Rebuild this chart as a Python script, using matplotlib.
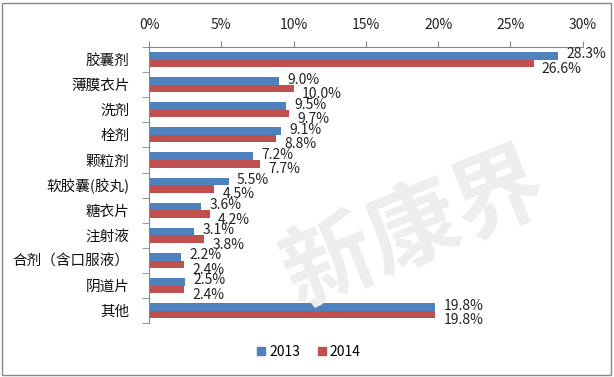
import matplotlib
matplotlib.use("Agg")
import matplotlib.pyplot as plt
import numpy as np
from matplotlib.patches import Rectangle

plt.rcParams['font.family'] = ['Noto Sans CJK SC', 'DejaVu Sans']

categories = ["胶囊剂", "薄膜衣片", "洗剂", "栓剂", "颗粒剂", "软胶囊(胶丸)", "糖衣片",
              "注射液", "合剂（含口服液）", "阴道片", "其他"]
v2013 = [28.3, 9.0, 9.5, 9.1, 7.2, 5.5, 3.6, 3.1, 2.2, 2.5, 19.8]
v2014 = [26.6, 10.0, 9.7, 8.8, 7.7, 4.5, 4.2, 3.8, 2.4, 2.4, 19.8]
series_names = ["2013", "2014"]
xticks = [0, 5, 10, 15, 20, 25, 30]

c13 = "#4F81BD"
c14 = "#C0504D"
spine_c = "#868686"
W, H = 614, 377

fig = plt.figure(figsize=(W/100, H/100), dpi=100)

# faint watermark
fig.text(415/W, 1 - 230/H, "新康界", fontsize=66, fontweight="bold", color="#eeeeee",
         rotation=22, ha="center", va="center", zorder=0)

ax = fig.add_axes([149/W, 1 - 323.3/H, (582.7-149)/W, (323.3-47)/H])
ax.patch.set_alpha(0)

n = len(categories)
y = np.arange(n)
h = 0.30
ax.barh(y - h/2, v2013, height=h, color=c13)
ax.barh(y + h/2, v2014, height=h, color=c14)

for yi, v in zip(y, v2013):
    ax.annotate(f"{v:.1f}%", (v, yi - h/2), xytext=(6, 1), textcoords="offset points",
                ha="left", va="center", fontsize=10, color="#222222")
for yi, v in zip(y, v2014):
    ax.annotate(f"{v:.1f}%", (v, yi + h/2), xytext=(6, -4), textcoords="offset points",
                ha="left", va="center", fontsize=10, color="#222222")

ax.set_ylim(n - 0.5, -0.5)
ax.set_xlim(0, 30)
ax.xaxis.tick_top()
ax.set_xticks(xticks)
ax.set_xticklabels([f"{t}%" for t in xticks], fontsize=10, color="#222222")
ax.tick_params(axis="x", direction="out", length=4, color=spine_c, pad=7)

ax.set_yticks(y)
ax.set_yticklabels(categories, fontsize=10.5, color="#111111")
ax.set_yticks(np.arange(n + 1) - 0.5, minor=True)
ax.tick_params(axis="y", which="major", length=0, pad=14)
ax.tick_params(axis="y", which="minor", length=5, color=spine_c, direction="out")

for s in ["right", "bottom"]:
    ax.spines[s].set_visible(False)
for s in ["top", "left"]:
    ax.spines[s].set_color(spine_c)
    ax.spines[s].set_linewidth(0.8)

handles = [Rectangle((0, 0), 1, 1, color=c13), Rectangle((0, 0), 1, 1, color=c14)]
fig.legend(handles, series_names, loc="center", bbox_to_anchor=(309/W, 1 - 352/H),
           ncol=2, frameon=False, fontsize=10, handlelength=0.55, handleheight=0.55,
           handletextpad=0.3, columnspacing=1.3)

fig.patches.append(Rectangle((2/W, 2/H), 609/W, 372/H, transform=fig.transFigure,
                             fill=False, edgecolor="#888888", linewidth=1))

fig.savefig("out.png", dpi=100)
